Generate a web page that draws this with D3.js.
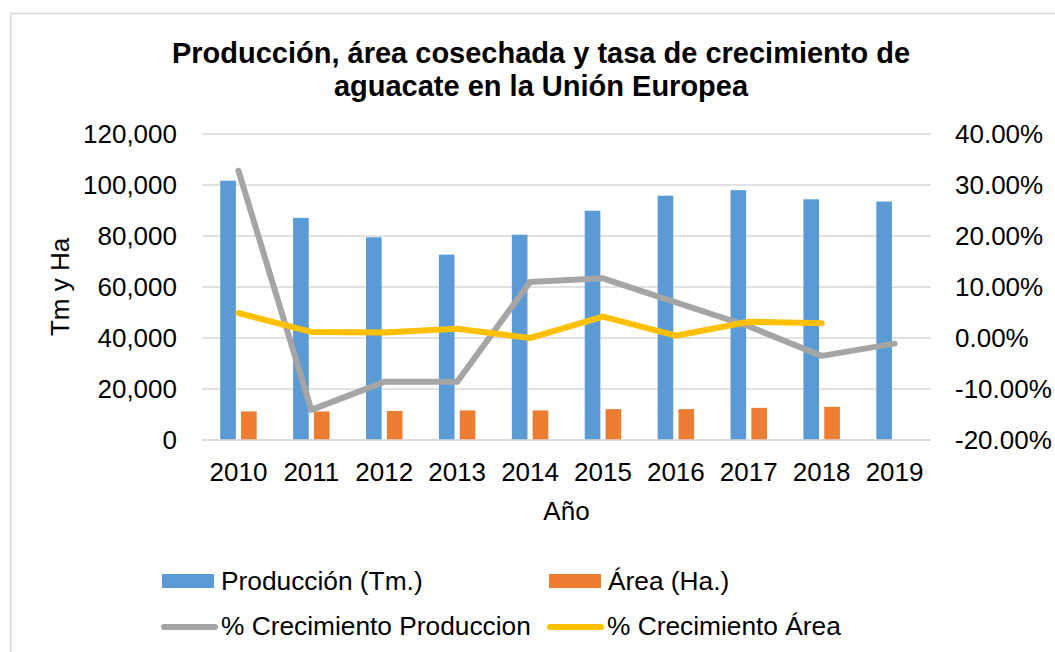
<!DOCTYPE html>
<html>
<head>
  <meta charset="utf-8">
  <title>Producción de aguacate UE</title>
  <style>
    body { margin: 0; background: #fff; font-family: "Liberation Sans", Arial, sans-serif; }
    .axis text { font-size: 26px; fill: #000; font-family: "Liberation Sans", Arial, sans-serif; }
  </style>
</head>
<body>
  <script src="https://cdn.jsdelivr.net/npm/d3@7/dist/d3.min.js"></script>
  <script>
    // datos
    var years = ["2010", "2011", "2012", "2013", "2014", "2015", "2016", "2017", "2018", "2019"];
    var produccion = [101700, 87100, 79500, 72700, 80500, 89900, 95800, 98000, 94400, 93500];
    var area = [11200, 11200, 11400, 11600, 11600, 12100, 12100, 12600, 13000, null];
    var crecProduccion = [0.328, -0.141, -0.086, -0.086, 0.110, 0.117, 0.070, 0.023, -0.035, -0.011];
    var crecArea = [0.049, 0.012, 0.011, 0.018, 0.000, 0.042, 0.0045, 0.032, 0.029, null];
    var leftTicks = [0, 20000, 40000, 60000, 80000, 100000, 120000];
    var rightTicks = [-0.2, -0.1, 0, 0.1, 0.2, 0.3, 0.4];
    var titleLines = ["Producción, área cosechada y tasa de crecimiento de", "aguacate en la Unión Europea"];
    var legendNames = ["Producción (Tm.)", "Área (Ha.)", "% Crecimiento Produccion", "% Crecimiento Área"];

    var colors = { prod: "#5B9BD5", area: "#ED7D31", cprod: "#A5A5A5", carea: "#FFC000" };
    var W = 1055, H = 652;
    var plot = { left: 202, right: 931, top: 134, bottom: 440 };

    var svg = d3.select("body").append("svg")
      .attr("width", W)
      .attr("height", H);

    // marco del grafico
    svg.append("rect")
      .attr("x", 10.5).attr("y", 13.5)
      .attr("width", 1100).attr("height", 700)
      .attr("fill", "#fff")
      .attr("stroke", "#D9D9D9")
      .attr("stroke-width", 1.5);

    var x0 = d3.scaleBand()
      .domain(years)
      .range([plot.left, plot.right])
      .paddingInner(0.5)
      .paddingOuter(0.25);
    var x1 = d3.scaleBand()
      .domain(["prod", "area"])
      .range([0, x0.bandwidth()])
      .paddingInner(0.25);
    var yLeft = d3.scaleLinear().domain([0, 120000]).range([plot.bottom, plot.top]);
    var yRight = d3.scaleLinear().domain([-0.2, 0.4]).range([plot.bottom, plot.top]);

    // lineas de cuadricula
    svg.append("g")
      .selectAll("line")
      .data(leftTicks)
      .join("line")
      .attr("x1", plot.left).attr("x2", plot.right)
      .attr("y1", d => yLeft(d)).attr("y2", d => yLeft(d))
      .attr("stroke", "#D9D9D9")
      .attr("stroke-width", 1.5);

    // barras
    var rows = years.map(function (y, i) {
      return { year: y, prod: produccion[i], area: area[i] };
    });
    var groups = svg.append("g")
      .selectAll("g")
      .data(rows)
      .join("g")
      .attr("transform", d => "translate(" + x0(d.year) + ",0)");
    groups.selectAll("rect")
      .data(d => ["prod", "area"].filter(k => d[k] != null).map(k => ({ key: k, value: d[k] })))
      .join("rect")
      .attr("x", d => x1(d.key))
      .attr("width", x1.bandwidth())
      .attr("y", d => yLeft(d.value))
      .attr("height", d => yLeft(0) - yLeft(d.value))
      .attr("fill", d => colors[d.key]);

    // lineas de crecimiento
    var cx = d => x0(d.year) + x0.bandwidth() / 2;
    var line = d3.line()
      .defined(d => d.v != null)
      .x(cx)
      .y(d => yRight(d.v));
    [[crecProduccion, colors.cprod], [crecArea, colors.carea]].forEach(function (s) {
      svg.append("path")
        .datum(years.map((y, i) => ({ year: y, v: s[0][i] })))
        .attr("d", line)
        .attr("fill", "none")
        .attr("stroke", s[1])
        .attr("stroke-width", 6)
        .attr("stroke-linejoin", "round")
        .attr("stroke-linecap", "round");
    });

    // ejes
    var pct = d3.format(".2%");
    var gl = svg.append("g")
      .attr("class", "axis")
      .attr("transform", "translate(" + plot.left + ",0)")
      .call(d3.axisLeft(yLeft).tickValues(leftTicks).tickSize(0).tickPadding(25).tickFormat(d3.format(",")));
    gl.select(".domain").remove();

    var gr = svg.append("g")
      .attr("class", "axis")
      .attr("transform", "translate(" + plot.right + ",0)")
      .call(d3.axisRight(yRight).tickValues(rightTicks).tickSize(0).tickPadding(24)
        .tickFormat(d => pct(d).replace("\u2212", "-")));
    gr.select(".domain").remove();

    var gb = svg.append("g")
      .attr("class", "axis")
      .attr("transform", "translate(0," + plot.bottom + ")")
      .call(d3.axisBottom(x0).tickSize(0).tickPadding(23));
    gb.select(".domain").remove();

    // eje x (linea base)
    svg.append("line")
      .attr("x1", plot.left).attr("x2", plot.right)
      .attr("y1", yLeft(0)).attr("y2", yLeft(0))
      .attr("stroke", "#D9D9D9")
      .attr("stroke-width", 1.5);

    // titulos
    svg.append("g")
      .selectAll("text")
      .data(titleLines)
      .join("text")
      .attr("x", 541)
      .attr("y", (d, i) => 63 + i * 33)
      .attr("text-anchor", "middle")
      .attr("font-size", 29)
      .attr("font-weight", "bold")
      .text(d => d);

    svg.append("text")
      .attr("transform", "translate(69,287) rotate(-90)")
      .attr("text-anchor", "middle")
      .attr("font-size", 26)
      .text("Tm y Ha");

    svg.append("text")
      .attr("x", (plot.left + plot.right) / 2)
      .attr("y", 520)
      .attr("text-anchor", "middle")
      .attr("font-size", 26)
      .text("Año");

    // leyenda
    var legendItems = [
      { name: legendNames[0], color: colors.prod, type: "rect", x: 162, y: 581 },
      { name: legendNames[1], color: colors.area, type: "rect", x: 549, y: 581 },
      { name: legendNames[2], color: colors.cprod, type: "line", x: 162, y: 627 },
      { name: legendNames[3], color: colors.carea, type: "line", x: 548, y: 627 }
    ];
    var lg = svg.append("g")
      .selectAll("g")
      .data(legendItems)
      .join("g")
      .attr("transform", d => "translate(" + d.x + "," + d.y + ")");
    lg.filter(d => d.type == "rect").append("rect")
      .attr("x", 0).attr("y", -7)
      .attr("width", 52).attr("height", 14)
      .attr("fill", d => d.color);
    lg.filter(d => d.type == "line").append("line")
      .attr("x1", 2).attr("x2", 53)
      .attr("stroke", d => d.color)
      .attr("stroke-width", 6)
      .attr("stroke-linecap", "round");
    lg.append("text")
      .attr("x", 59)
      .attr("y", d => d.type == "line" ? -1 : 0)
      .attr("dy", "0.35em")
      .attr("font-size", 26.3)
      .text(d => d.name);
  </script>
</body>
</html>
